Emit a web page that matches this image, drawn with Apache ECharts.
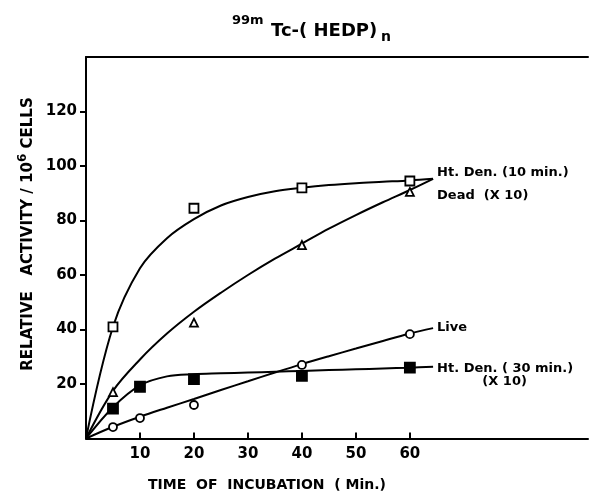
<!DOCTYPE html>
<html>
<head>
<meta charset="utf-8">
<script src="https://cdn.jsdelivr.net/npm/echarts@6/dist/echarts.min.js"></script>
<style>
  html, body { margin: 0; padding: 0; background: #fff; }
  #chart { width: 589px; height: 493px; }
</style>
</head>
<body>
<div id="chart"></div>
<script>
// tick labels
var xTicks = [10, 20, 30, 40, 50, 60];
var yTicks = [20, 40, 60, 80, 100, 120];

// measured points
var ht10Time = [5, 20, 40, 60];
var ht10Val = [41, 84.5, 92, 94.5];
var deadTime = [5, 20, 40, 60];
var deadVal = [17, 42.5, 71, 90.5];
var liveTime = [5, 10, 20, 40, 60];
var liveVal = [4.2, 7.5, 12.3, 27, 38.3];
var ht30Time = [5, 10, 20, 40, 60];
var ht30Val = [11, 19, 21.8, 23, 26];

// fitted curves
var curveTime = [0, 5, 10, 15, 20, 25, 30, 35, 40, 45, 50, 55, 60, 64.3];
var ht10Curve = [0, 41, 62.5, 73.5, 80.5, 85.5, 88.6, 90.7, 92, 93, 93.7, 94.2, 94.7, 95.3];
var deadCurve = [0, 17.5, 29, 38.5, 46.5, 53.5, 60, 66, 71.5, 77, 82, 86.7, 91.2, 95.3];
var liveCurve = [0, 4.3, 8, 11.3, 14.5, 17.8, 21, 24.2, 27.3, 30.2, 33, 35.8, 38.5, 40.5];
var ht30Curve = [0, 11.5, 19.5, 22.8, 23.6, 23.9, 24.2, 24.5, 24.8, 25.1, 25.4, 25.7, 26, 26.3];

function pairs(xs, ys) {
    return xs.map(function (x, i) { return [x, ys[i]]; });
}

var font = 'DejaVu Sans';
var labelStyle = { color: '#000', fontFamily: font, fontWeight: 'bold', fontSize: 13 };

function curve(name, ys, text, offset) {
    return {
        name: name,
        type: 'line',
        data: pairs(curveTime, ys),
        smooth: 0.35,
        showSymbol: false,
        lineStyle: { color: '#000', width: 2 },
        endLabel: Object.assign({ show: true, formatter: text, offset: offset, distance: 4 }, labelStyle),
        z: 2
    };
}

function points(name, xs, ys, symbol, size, filled) {
    return {
        name: name + ' pts',
        type: 'scatter',
        data: pairs(xs, ys),
        symbol: symbol,
        symbolSize: size,
        itemStyle: { color: filled ? '#000' : '#fff', borderColor: '#000', borderWidth: 1.8, opacity: 1 },
        z: 5
    };
}

var chart = echarts.init(document.getElementById('chart'));
var option = {
    animation: false,
    backgroundColor: '#fff',
    grid: { left: 86, right: 1, top: 57, bottom: 54.5 },
    xAxis: [{
        type: 'value',
        min: 0,
        max: 93,
        axisLine: { lineStyle: { color: '#000', width: 2 } },
        axisTick: { inside: true, length: 6, customValues: xTicks, lineStyle: { color: '#000', width: 2 } },
        axisLabel: { customValues: xTicks, margin: 8, color: '#000', fontFamily: font, fontWeight: 'bold', fontSize: 15 },
        splitLine: { show: false }
    }, {
        type: 'value',
        position: 'top',
        min: 0,
        max: 93,
        axisLine: { show: true, lineStyle: { color: '#000', width: 2 } },
        axisTick: { show: false },
        axisLabel: { show: false },
        splitLine: { show: false }
    }],
    yAxis: {
        type: 'value',
        min: 0,
        max: 140,
        interval: 20,
        axisLine: { show: true, lineStyle: { color: '#000', width: 2 } },
        axisTick: { show: true, length: 6, customValues: yTicks, lineStyle: { color: '#000', width: 2 } },
        axisLabel: { customValues: yTicks, margin: 9, color: '#000', fontFamily: font, fontWeight: 'bold', fontSize: 15 },
        splitLine: { show: false }
    },
    graphic: [
        { type: 'text', left: 232, top: 14, style: { text: '99m', fill: '#000', font: 'bold 13px "DejaVu Sans"' } },
        { type: 'text', left: 271, top: 22, style: { text: 'Tc-( HEDP)', fill: '#000', font: 'bold 18px "DejaVu Sans"' } },
        { type: 'text', left: 381, top: 30, style: { text: 'n', fill: '#000', font: 'bold 14px "DejaVu Sans"' } },
        { type: 'text', x: 267, y: 485, style: { text: 'TIME  OF  INCUBATION  ( Min.)', fill: '#000', align: 'center', verticalAlign: 'middle', font: 'bold 14px "DejaVu Sans"' } },
        {
            type: 'text', x: 26, y: 234, rotation: Math.PI / 2,
            style: {
                text: '{a|RELATIVE   ACTIVITY / 10}{s|6}{a| CELLS}',
                fill: '#000', align: 'center', verticalAlign: 'middle',
                rich: {
                    a: { fontFamily: font, fontWeight: 'bold', fontSize: 15, fill: '#000', verticalAlign: 'bottom' },
                    s: { fontFamily: font, fontWeight: 'bold', fontSize: 12, fill: '#000', verticalAlign: 'bottom', padding: [0, 0, 7, 0] }
                }
            }
        }
    ],
    series: [
        curve('Ht. Den. (10 min.)', ht10Curve, 'Ht. Den. (10 min.)', [0, -6]),
        curve('Dead (X 10)', deadCurve, 'Dead  (X 10)', [0, 17]),
        curve('Live', liveCurve, 'Live', [0, -1]),
        curve('Ht. Den. (30 min.) (X 10)', ht30Curve, 'Ht. Den. ( 30 min.)\n          (X 10)', [0, 8]),
        points('Ht. Den. (10 min.)', ht10Time, ht10Val, 'rect', 9, false),
        points('Dead (X 10)', deadTime, deadVal, 'triangle', 8, false),
        points('Live', liveTime, liveVal, 'circle', 8, false),
        points('Ht. Den. (30 min.) (X 10)', ht30Time, ht30Val, 'rect', 10, true)
    ]
};
chart.setOption(option);
</script>
</body>
</html>
